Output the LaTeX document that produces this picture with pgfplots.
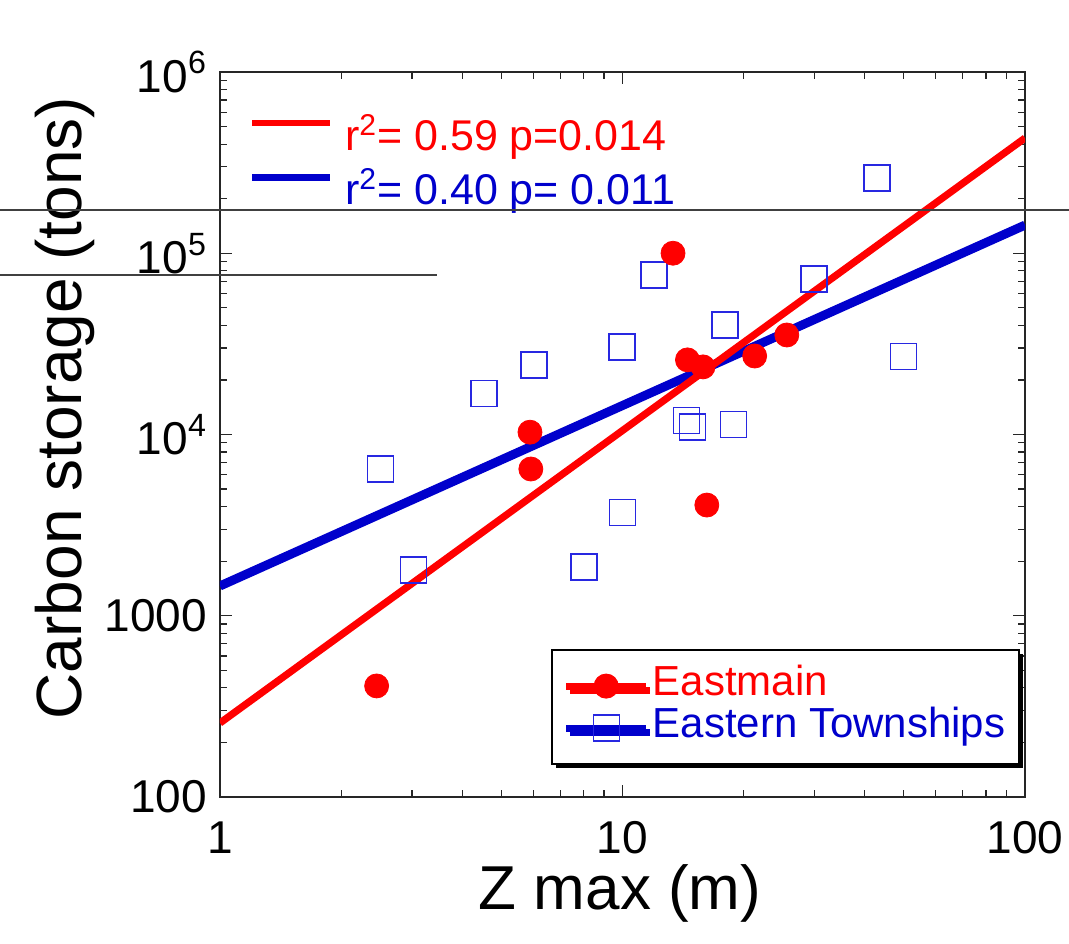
\documentclass[border=0pt]{standalone}
\usepackage{fontspec}
\setmainfont{Liberation Sans}
\usepackage{pgfplots}
\pgfplotsset{compat=1.18}
\usetikzlibrary{shadows}
\definecolor{myred}{RGB}{255,0,0}
\definecolor{myblue}{RGB}{0,0,204}
\definecolor{sqblue}{RGB}{40,40,225}
\begin{document}
\begin{tikzpicture}
\path[use as bounding box] (-110pt,-73pt) rectangle (424.5pt,398.5pt);
\begin{axis}[
  at={(0,0)}, anchor=south west,
  scale only axis, width=402.5pt, height=362.5pt,
  xmode=log, ymode=log,
  xmin=1, xmax=100, ymin=100, ymax=1000000,
  xtick={1,10,100}, xticklabels={1,10,100},
  minor xtick={2,3,4,5,6,7,8,9,20,30,40,50,60,70,80,90},
  ytick={100,1000,10000,100000,1000000},
  yticklabels={100,1000,10\textsuperscript{4},10\textsuperscript{5},10\textsuperscript{6}},
  minor ytick={200,300,400,500,600,700,800,900,2000,3000,4000,5000,6000,7000,8000,9000,20000,30000,40000,50000,60000,70000,80000,90000,200000,300000,400000,500000,600000,700000,800000,900000},
  tick align=inside,
  major tick length=6pt, minor tick length=3.5pt,
  every tick/.style={black!85, line width=0.6pt},
  axis line style={black!85, line width=0.75pt},
  xticklabel style={font=\fontsize{23}{27}\selectfont, anchor=base, yshift=-28pt},
  yticklabel style={font=\fontsize{23}{27}\selectfont, xshift=-3pt},
  xlabel={Z max (m)},
  ylabel={Carbon storage (tons)},
  xlabel style={font=\fontsize{31}{36}\selectfont, at={(axis description cs:0.497,-0.1545)}, anchor=base},
  ylabel style={font=\fontsize{32}{38}\selectfont, at={(axis description cs:-0.1925,0.5366)}, anchor=center},
  legend image code/.code={\draw[mark repeat=2,mark phase=2,#1] plot coordinates {(0pt,0pt) (20pt,0pt) (40pt,0pt)};},
  legend style={at={(0.994,0.044)}, anchor=south east, draw=black, line width=1pt,
    fill=white, inner xsep=5.5pt, inner ysep=7.5pt,
    font=\fontsize{21}{25}\selectfont,
    nodes={inner sep=1.5pt, inner ysep=1pt, text height=14pt, text depth=5pt},
    drop shadow={shadow xshift=2pt, shadow yshift=-2pt, fill=black, opacity=1}},
  legend cell align=left,
  clip=true,
]
% Eastern Townships (squares)
\addplot[forget plot, only marks, mark=square, mark size=6.5pt, color=sqblue, mark options={line width=0.6pt}] coordinates {
  (2.51,6450) (3.02,1790) (4.53,16900) (6.03,24200) (8.02,1860)
  (9.97,30400) (10.0,3730) (11.97,75900) (14.4,11900) (14.9,11000)
  (17.97,40200) (18.9,11400) (29.9,72100) (42.9,260000) (49.8,26800)
};
% regression lines
\addplot[forget plot, myblue, line width=4.5pt] coordinates {(1,1460) (100,143000)};
\addplot[forget plot, myred, line width=3.6pt] coordinates {(1,256) (100,432000)};
% Eastmain (circles)
\addplot[forget plot, only marks, mark=*, mark size=6pt, color=myred, mark options={draw=myred, fill=myred}] coordinates {
  (2.45,410) (5.89,10300) (5.92,6450) (13.35,100000) (14.5,25800)
  (15.85,23600) (16.2,4080) (21.3,27100) (25.6,35400)
};
\addlegendimage{myred, line width=3.5pt, mark=*, mark size=6pt, mark options={fill=myred, draw=myred, line width=0.5pt}}
\addlegendentry{\textcolor{myred}{Eastmain}}
\addlegendimage{myblue, line width=3.5pt, mark=square, mark size=6.5pt, mark options={draw=sqblue, line width=0.6pt}}
\addlegendentry{\textcolor{myblue}{Eastern Townships}}
% r^2 annotations
\draw[myred, line width=3.2pt] (rel axis cs:0.040,0.930) -- (rel axis cs:0.137,0.930);
\node[anchor=base west, text=myred, font=\fontsize{21.5}{25}\selectfont, inner sep=0pt] at (rel axis cs:0.155,0.892) {r\textsuperscript{2}= 0.59 p=0.014};
\draw[myblue, line width=3.6pt] (rel axis cs:0.040,0.854) -- (rel axis cs:0.137,0.854);
\node[anchor=base west, text=myblue, font=\fontsize{21.5}{25}\selectfont, inner sep=0pt] at (rel axis cs:0.155,0.8166) {r\textsuperscript{2}= 0.40 p= 0.011};
\end{axis}
\draw[black!75, line width=0.6pt] (-110pt,293.5pt) -- (424.5pt,293.5pt);
\draw[black!75, line width=0.6pt] (-110pt,261pt) -- (108.5pt,261pt);
\end{tikzpicture}
\end{document}
